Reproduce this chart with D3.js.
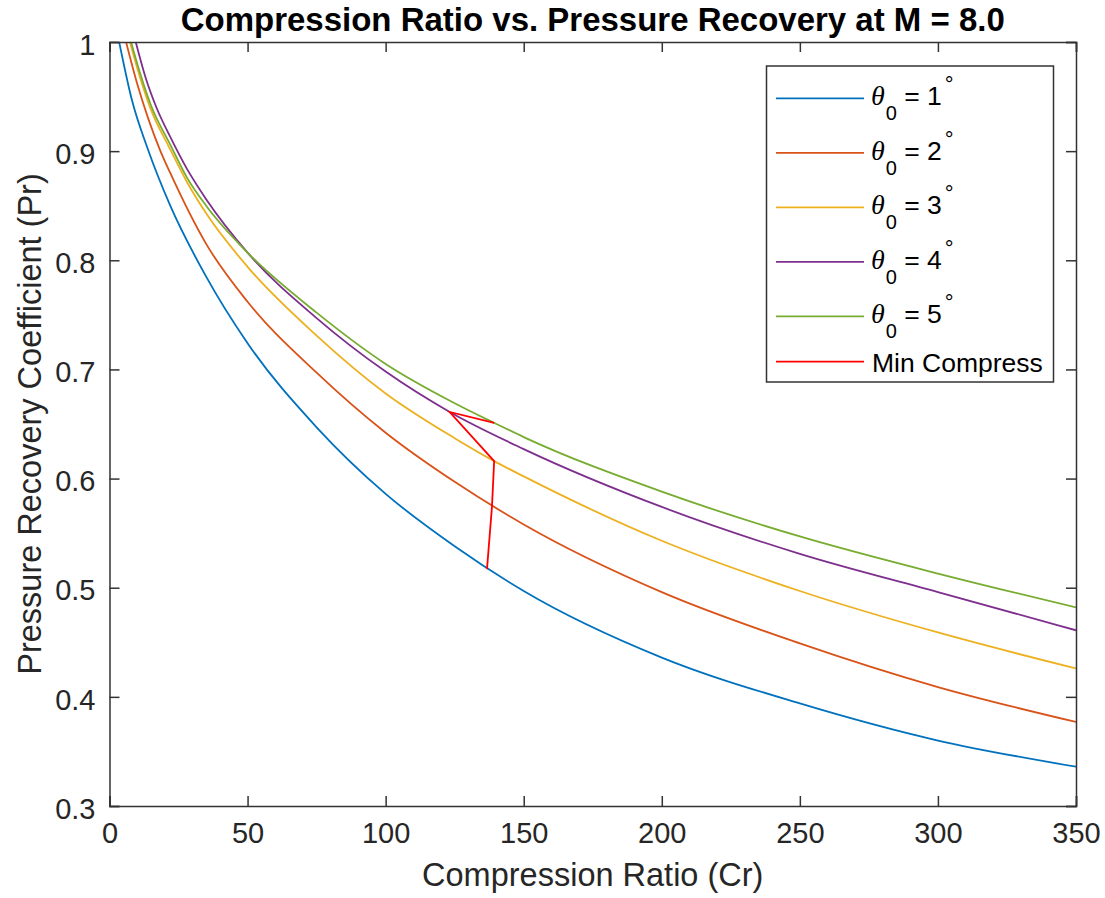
<!DOCTYPE html>
<html>
<head>
<meta charset="utf-8">
<script src="https://cdn.jsdelivr.net/npm/d3@7"></script>
<style>
  body { margin: 0; background: #fff; }
  svg { display: block; font-family: "Liberation Sans", Arial, Helvetica, sans-serif; }
</style>
</head>
<body>
<div id="chart"></div>
<script>
// values
const cr1 = [3.5, 8, 14, 22, 35, 50, 75, 100, 125, 150, 200, 250, 300, 350];
const pr1 = [1.0, 0.948, 0.901, 0.850, 0.785, 0.724, 0.647, 0.586, 0.538, 0.497, 0.436, 0.394, 0.360, 0.336];

const cr2 = [6, 10, 14, 18.3, 22, 35, 50, 75, 100, 125, 150, 200, 250, 300, 350];
const pr2 = [1.0, 0.962, 0.930, 0.901, 0.880, 0.815, 0.762, 0.697, 0.642, 0.597, 0.558, 0.496, 0.449, 0.409, 0.377];

const cr3 = [7.4, 11, 15, 21.5, 28, 35, 50, 75, 100, 125, 139.3, 150, 200, 250, 300, 350];
const pr3 = [1.0, 0.968, 0.938, 0.904, 0.872, 0.843, 0.794, 0.731, 0.678, 0.637, 0.616, 0.602, 0.543, 0.497, 0.459, 0.426];

const cr4 = [9.5, 13, 17, 22, 28, 35, 50, 75, 100, 123.2, 150, 200, 250, 300, 350];
const pr4 = [1.0, 0.968, 0.940, 0.913, 0.884, 0.856, 0.807, 0.747, 0.698, 0.661, 0.627, 0.574, 0.531, 0.496, 0.461];

const cr5 = [7.8, 11, 15, 22, 28, 35, 50, 75, 100, 125, 139.3, 150, 200, 250, 300, 350];
const pr5 = [1.0, 0.972, 0.942, 0.906, 0.876, 0.850, 0.807, 0.752, 0.705, 0.669, 0.651, 0.638, 0.588, 0.547, 0.513, 0.482];

const crMin = [136.7, 138.5, 139.3, 123.2, 139.3];
const prMin = [0.517, 0.574, 0.616, 0.661, 0.651];

const thetas = [1, 2, 3, 4, 5];
const colors = ["#0072BD", "#D95319", "#EDB120", "#7E2F8E", "#77AC30"];
const xTicks = [0, 50, 100, 150, 200, 250, 300, 350];
const yTicks = [0.3, 0.4, 0.5, 0.6, 0.7, 0.8, 0.9, 1];

const series = [[cr1, pr1], [cr2, pr2], [cr3, pr3], [cr4, pr4], [cr5, pr5]];

const W = 1105, H = 898;
const mLeft = 109.5, mRight = 1076, mTop = 42, mBottom = 806;
const axisColor = "#333";
const lw = 1.8;

const svg = d3.select("#chart").append("svg")
  .attr("width", W)
  .attr("height", H);

const x = d3.scaleLinear().domain([0, 350]).range([mLeft, mRight]);
const y = d3.scaleLinear().domain([0.3, 1]).range([mBottom, mTop]);

svg.append("clipPath").attr("id", "plotclip")
  .append("rect")
  .attr("x", mLeft).attr("y", mTop)
  .attr("width", mRight - mLeft).attr("height", mBottom - mTop);

const line = d3.line()
  .x(d => x(d[0]))
  .y(d => y(d[1]))
  .curve(d3.curveMonotoneX);

const plot = svg.append("g").attr("clip-path", "url(#plotclip)");

series.forEach((s, i) => {
  const pts = s[0].map((c, j) => [c, s[1][j]]);
  plot.append("path")
    .datum(pts)
    .attr("fill", "none")
    .attr("stroke", colors[i])
    .attr("stroke-width", lw)
    .attr("d", line);
});

plot.append("path")
  .datum(crMin.map((c, j) => [c, prMin[j]]))
  .attr("fill", "none")
  .attr("stroke", "#FF0000")
  .attr("stroke-width", lw)
  .attr("d", d3.line().x(d => x(d[0])).y(d => y(d[1])));

// axes, ticks inside on all four sides
const tickLen = 10;
const gx = svg.append("g")
  .attr("transform", `translate(0,${mBottom})`)
  .call(d3.axisBottom(x).tickValues(xTicks).tickSize(-tickLen).tickPadding(14).tickFormat(d3.format("d")));
const gxTop = svg.append("g")
  .attr("transform", `translate(0,${mTop})`)
  .call(d3.axisTop(x).tickValues(xTicks).tickSize(-tickLen).tickFormat(""));
const gy = svg.append("g")
  .attr("transform", `translate(${mLeft},0)`)
  .call(d3.axisLeft(y).tickValues(yTicks).tickSize(-tickLen).tickPadding(14).tickFormat(d => d === 1 ? "1" : d3.format(".1f")(d)));
const gyRight = svg.append("g")
  .attr("transform", `translate(${mRight},0)`)
  .call(d3.axisRight(y).tickValues(yTicks).tickSize(-tickLen).tickFormat(""));

[gx, gxTop, gy, gyRight].forEach(g => {
  g.select(".domain").attr("stroke", axisColor).attr("stroke-width", 1.5);
  g.selectAll(".tick line").attr("stroke", axisColor).attr("stroke-width", 1.5);
  g.selectAll(".tick text")
    .attr("fill", "#262626")
    .style("font-family", "'Liberation Sans', Arial, sans-serif")
    .style("font-size", "29px");
});
gx.selectAll(".tick text").attr("dy", "0.78em");
gy.selectAll(".tick text").attr("dy", "0.42em");

// title and labels
svg.append("text")
  .attr("x", (mLeft + mRight) / 2)
  .attr("y", 31)
  .attr("text-anchor", "middle")
  .attr("font-weight", "bold")
  .attr("font-size", 33)
  .attr("textLength", 824)
  .attr("lengthAdjust", "spacingAndGlyphs")
  .attr("fill", "#000")
  .text("Compression Ratio vs. Pressure Recovery at M = 8.0");

svg.append("text")
  .attr("x", (mLeft + mRight) / 2)
  .attr("y", 886)
  .attr("text-anchor", "middle")
  .attr("font-size", 32.5)
  .attr("fill", "#262626")
  .text("Compression Ratio (Cr)");

svg.append("text")
  .attr("transform", `translate(41,${(mTop + mBottom) / 2}) rotate(-90)`)
  .attr("text-anchor", "middle")
  .attr("font-size", 32.5)
  .attr("fill", "#262626")
  .text("Pressure Recovery Coefficient (Pr)");

// legend
const lg = svg.append("g");
lg.append("rect")
  .attr("x", 766.5).attr("y", 66)
  .attr("width", 287).attr("height", 316)
  .attr("fill", "#fff")
  .attr("stroke", axisColor)
  .attr("stroke-width", 1.5);

const rowY = [98.3, 152.8, 207.3, 261.8, 316.3, 361.7];
thetas.forEach((t, i) => {
  const ry = rowY[i];
  lg.append("line")
    .attr("x1", 776).attr("x2", 864)
    .attr("y1", ry).attr("y2", ry)
    .attr("stroke", colors[i]).attr("stroke-width", lw);
  const tx = lg.append("text")
    .attr("x", 871).attr("y", ry + 7)
    .attr("font-size", 26.5)
    .attr("fill", "#000");
  tx.append("tspan")
    .attr("font-family", "'Liberation Serif', 'Times New Roman', serif")
    .attr("font-style", "italic")
    .attr("font-size", 28)
    .text("θ");
  tx.append("tspan").attr("font-size", 20).attr("dy", 15).attr("dx", 1).text("0");
  tx.append("tspan").attr("dy", -15).text(" = " + t);
  tx.append("tspan").attr("font-size", 22).attr("dy", -13).attr("dx", 3).text("°");
});
lg.append("line")
  .attr("x1", 776).attr("x2", 864)
  .attr("y1", rowY[5]).attr("y2", rowY[5])
  .attr("stroke", "#FF0000").attr("stroke-width", lw);
lg.append("text")
  .attr("x", 872).attr("y", rowY[5] + 10)
  .attr("font-size", 26.5)
  .attr("fill", "#000")
  .text("Min Compress");
</script>
</body>
</html>
